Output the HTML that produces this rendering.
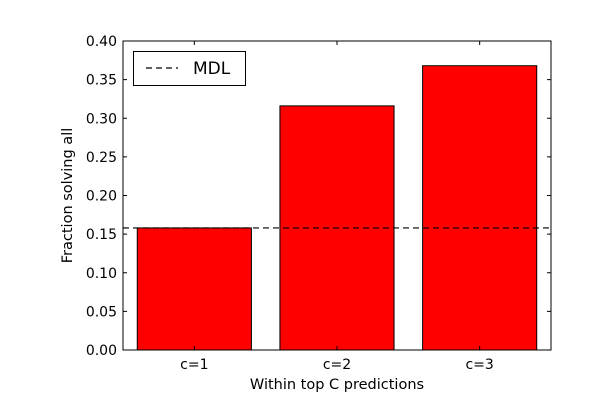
<!DOCTYPE html>
<html><head><meta charset="utf-8"><style>
body{margin:0;background:#fff}
svg text{font-family:"DejaVu Sans","Liberation Sans",sans-serif;fill:#000}
</style></head><body>
<svg id="chart" width="612" height="412" viewBox="0 0 612 412"></svg>
<script>
const categories = ["c=1","c=2","c=3"];
const values = [0.158,0.316,0.368];
const mdlValue = 0.158;
const yTicks = [0,0.05,0.10,0.15,0.20,0.25,0.30,0.35,0.40];
const yTickLabels = ["0.00","0.05","0.10","0.15","0.20","0.25","0.30","0.35","0.40"];

const L=123,R=551,T=41,B=350;
const ymin=0,ymax=0.4,xmin=-0.5,xmax=2.5;
const ys=v=>B-(v-ymin)/(ymax-ymin)*(B-T);
const xs=v=>L+(v-xmin)/(xmax-xmin)*(R-L);
const svg=document.getElementById('chart');
const NS='http://www.w3.org/2000/svg';
function mk(tag,attrs,parent){const e=document.createElementNS(NS,tag);for(const k in attrs)e.setAttribute(k,attrs[k]);(parent||svg).appendChild(e);return e;}

categories.forEach((c,i)=>{
  const r=mk('rect',{x:xs(i-0.4),y:ys(values[i]),width:xs(i+0.4)-xs(i-0.4),height:ys(0)-ys(values[i]),fill:'#ff0000',stroke:'#000','stroke-width':1});
  
  
  const t=mk('text',{x:xs(i),y:B+19,'text-anchor':'middle','font-size':14});
  t.textContent=c;
  
  
  mk('line',{x1:xs(i),x2:xs(i),y1:B,y2:B-4,stroke:'#000'});
  mk('line',{x1:xs(i),x2:xs(i),y1:T,y2:T+4,stroke:'#000'});
});
const ml=mk('line',{x1:L,x2:R,y1:ys(mdlValue),y2:ys(mdlValue),stroke:'#000','stroke-width':1.2,'stroke-dasharray':'6,4'});



yTicks.forEach((v,i)=>{
  mk('line',{x1:L,x2:L+4,y1:ys(v),y2:ys(v),stroke:'#000'});
  mk('line',{x1:R,x2:R-4,y1:ys(v),y2:ys(v),stroke:'#000'});
  const t=mk('text',{x:L-6,y:ys(v)+5,'text-anchor':'end','font-size':14});
  t.textContent=yTickLabels[i];
  
  
});
const fr=mk('rect',{x:L,y:T,width:R-L,height:B-T,fill:'none',stroke:'#000','stroke-width':1});



const xt=mk('text',{x:(L+R)/2,y:389,'text-anchor':'middle','font-size':14.5});
xt.textContent='Within top C predictions';


const yt=mk('text',{x:72,y:(T+B)/2,'text-anchor':'middle','font-size':14.5,transform:'rotate(-90 72 '+((T+B)/2)+')'});
yt.textContent='Fraction solving all';



const lg=mk('g',{});


mk('rect',{x:133.5,y:51.5,width:112,height:34,fill:'#fff',stroke:'#000'},lg);
mk('line',{x1:146,x2:178,y1:68,y2:68,stroke:'#000','stroke-width':1.2,'stroke-dasharray':'6,4'},lg);
const lt=mk('text',{x:193,y:74,'font-size':17},lg);
lt.textContent='MDL';


</script>
</body></html>
